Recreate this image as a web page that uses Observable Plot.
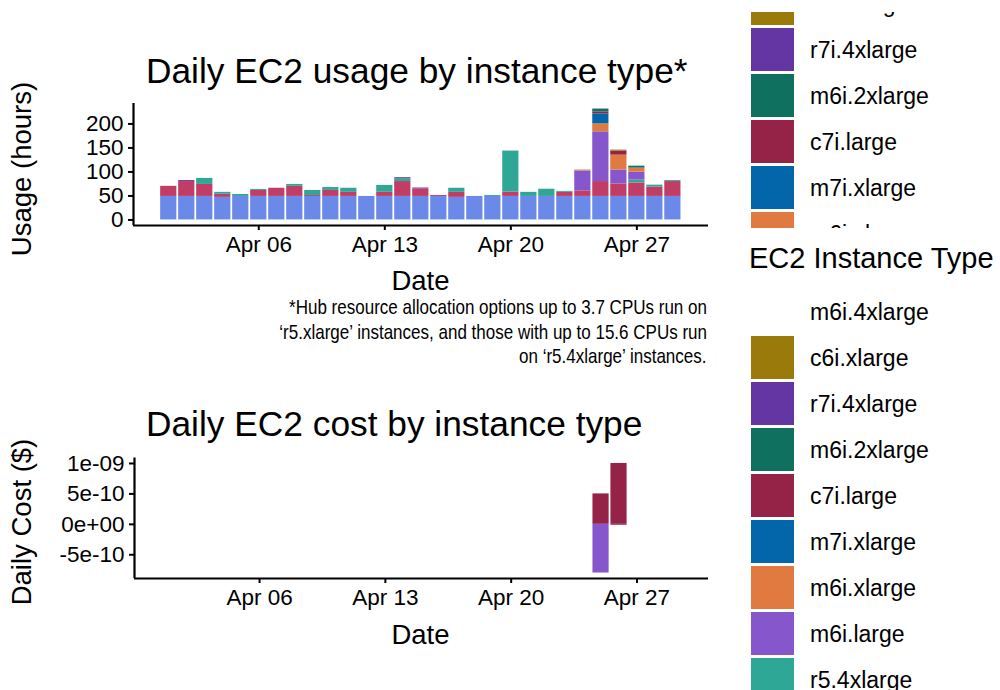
<!DOCTYPE html>
<html><head><meta charset="utf-8">
<script src="https://cdn.jsdelivr.net/npm/d3@7"></script>
<script src="https://cdn.jsdelivr.net/npm/@observablehq/plot@0.6"></script>
<style>
body{margin:0;background:#fff;}
#fig{position:relative;width:1000px;height:690px;overflow:hidden;font-family:"Liberation Sans",Arial,Helvetica,sans-serif;color:#000;background:#fff;}
.t{position:absolute;white-space:nowrap;}
.plot{position:absolute;left:0;}
.clip{position:absolute;overflow:hidden;}
.sw{position:absolute;width:43px;height:43px;}
</style></head><body><div id="fig"></div>
<script>
// ---------------- data ----------------
const dates = ["2024-04-01","2024-04-02","2024-04-03","2024-04-04","2024-04-05","2024-04-06","2024-04-07",
  "2024-04-08","2024-04-09","2024-04-10","2024-04-11","2024-04-12","2024-04-13","2024-04-14","2024-04-15",
  "2024-04-16","2024-04-17","2024-04-18","2024-04-19","2024-04-20","2024-04-21","2024-04-22","2024-04-23",
  "2024-04-24","2024-04-25","2024-04-26","2024-04-27","2024-04-28","2024-04-29"];

// legend order (top to bottom); stacking is the reverse (last = bottom of stack)
const instanceTypes = ["m6i.4xlarge","c6i.xlarge","r7i.4xlarge","m6i.2xlarge","c7i.large","m7i.xlarge",
  "m6i.xlarge","m6i.large","r5.4xlarge","r5.xlarge","r5.large"];
const typeColors = ["#FFFFFF","#9A7A0B","#6336A3","#0F705F","#952247","#0466AA",
  "#E07A41","#8657CC","#2FA797","#C13D66","#6A89E8"];

// daily usage hours by instance type (Apr 01 .. Apr 29)
const hoursR5Large    = [49,49,49,47,49,49,49,49,49,49,49,49,49,49,49,49,47,49,49,49,49,49,49,49,49,49,49,49,49];
const hoursR5Xlarge   = [21,31,25,6.5,0,12.5,17,21,2,12.5,8.5,0,8.5,31,15.5,2,10.5,0,0,9,0,0,8.5,11.5,31,26,28,19.5,31];
const hoursR54xlarge  = [0,0,12.5,4,4,2,0,4,10.5,6,8.5,0,14.5,6,0,0,8.5,0,2,85.5,8.5,15,2,0,0,0,6,4,2];
const hoursM6iLarge   = [0,0,0,0,0,0,0,0,0,0,0,0,0,0,0,0,0,0,0,0,0,0,0,41.5,103.5,29,16.5,0,0];
const hoursM6iXlarge  = [0,0,0,0,0,0,0,0,0,0,0,0,0,0,0,0,0,0,0,0,0,0,0,2,16.5,31,8.5,0,0];
const hoursM7iXlarge  = [0,0,0,0,0,0,0,0,0,0,0,0,0,0,0,0,0,0,0,0,0,0,0,0,21,0,0,0,0];
const hoursC7iLarge   = [0,0,0,0,0,0,0,0,0,0,0,0,0,0,0,0,0,0,0,0,0,0,0,0,4,8.5,0,0,0];
const hoursM6i2xlarge = [0,0,0,0,0,0,0,0,0,0,0,0,0,0,0,0,0,0,0,0,0,0,0,0,6,0,4,0,0];
const hoursR74xlarge  = [0,2,0,0,0,0,0,0,0,0,0,0,0,2,2,0,0,0,0,0,0,0,0,0,0,0,0,0,0];
const hoursC6iXlarge  = [0,0,0,0,0,0,0,0,0,0,0,0,0,0,0,0,0,0,0,0,0,0,0,0,0,2,0,0,0];
const hoursM6i4xlarge = [0,0,0,0,0,0,0,0,0,0,0,0,0,0,0,0,0,0,0,0,0,0,0,0,0,0,0,0,0];

// daily cost ($)
const costDates  = ["2024-04-25","2024-04-25","2024-04-26","2024-04-26"];
const costTypes  = ["c7i.large","m6i.large","c7i.large","c7i.large"];
const costValues = [5e-10, -8e-10, 1e-9, -1.5e-11];

// ticks
const dateTicks  = ["2024-04-06","2024-04-13","2024-04-20","2024-04-27"];
const usageTicks = [0,50,100,150,200];
const costTicks  = [-5e-10,0,5e-10,1e-9];

const captionLines = [
  "*Hub resource allocation options up to 3.7 CPUs run on",
  "\u2018r5.xlarge\u2019 instances, and those with up to 15.6 CPUs run",
  "on \u2018r5.4xlarge\u2019 instances."
];

// ---------------- build tables ----------------
const stackSeries = [ // bottom -> top
  ["r5.large",hoursR5Large],["r5.xlarge",hoursR5Xlarge],["r5.4xlarge",hoursR54xlarge],
  ["m6i.large",hoursM6iLarge],["m6i.xlarge",hoursM6iXlarge],["m7i.xlarge",hoursM7iXlarge],
  ["c7i.large",hoursC7iLarge],["m6i.2xlarge",hoursM6i2xlarge],["r7i.4xlarge",hoursR74xlarge],
  ["c6i.xlarge",hoursC6iXlarge],["m6i.4xlarge",hoursM6i4xlarge]
];
const usageRows = [];
dates.forEach((ds, i) => {
  for (const [type, arr] of stackSeries) {
    if (arr[i] > 0) usageRows.push({date: new Date(ds), type, hours: arr[i]});
  }
});
const costRows = costDates.map((d, i) => ({date: new Date(d), type: costTypes[i], cost: costValues[i]}));

const DAY = 864e5;
const xDomain = [new Date(Date.UTC(2024,2,30,1)), new Date(Date.UTC(2024,3,30,23,30))];
const fontStack = "'Liberation Sans', Arial, Helvetica, sans-serif";

function fmtSci(v) {
  const [m, e] = v.toExponential(0).split("e");
  const ex = +e;
  return m + "e" + (ex < 0 ? "-" : "+") + String(Math.abs(ex)).padStart(2, "0");
}

function makePlot({rows, yField, yDomain, yTicks, yFormat, height, marginTop, marginBottom, marginLeft}) {
  return Plot.plot({
    width: 720, height, marginLeft, marginRight: 12, marginTop, marginBottom,
    style: {fontFamily: fontStack, fontSize: "22.5px", background: "transparent", overflow: "visible", color: "#000"},
    x: {type: "utc", domain: xDomain},
    y: {domain: yDomain},
    color: {domain: instanceTypes, range: typeColors},
    marks: [
      Plot.rectY(rows, {
        x1: d => new Date(+d.date - 0.45 * DAY),
        x2: d => new Date(+d.date + 0.45 * DAY),
        y: yField, fill: "type"
      }),
      Plot.axisX({ticks: dateTicks.map(d => new Date(d)), tickFormat: d3.utcFormat("%b %d"),
        tickSize: 5, tickPadding: 6, label: null, strokeWidth: 2}),
      Plot.axisY({ticks: yTicks, tickFormat: yFormat, tickSize: 5, tickPadding: 5, label: null, strokeWidth: 2}),
      Plot.ruleY([yDomain[0]], {stroke: "#000", strokeWidth: 2.2}),
      Plot.ruleX([xDomain[0]], {stroke: "#000", strokeWidth: 2.2})
    ]
  });
}

const fig = document.getElementById("fig");

// usage panel
const totals = d3.rollup(usageRows, v => d3.sum(v, d => d.hours), d => +d.date);
const uMax = d3.max(totals.values());
const uDom = [-0.05 * uMax, 1.05 * uMax];
const p1 = makePlot({rows: usageRows, yField: "hours", yDomain: uDom, yTicks: usageTicks,
  yFormat: d => String(d), height: 300, marginTop: 103, marginBottom: 75, marginLeft: 133});
p1.classList.add("plot"); p1.style.top = "0px";
fig.appendChild(p1);

// cost panel
const posMax = d3.max(d3.rollup(costRows.filter(d => d.cost > 0), v => d3.sum(v, d => d.cost), d => +d.date).values());
const negMin = d3.min(d3.rollup(costRows.filter(d => d.cost < 0), v => d3.sum(v, d => d.cost), d => +d.date).values());
const cr = posMax - negMin;
const cDom = [negMin - 0.05 * cr, posMax + 0.05 * cr];
const p2 = makePlot({rows: costRows, yField: "cost", yDomain: cDom, yTicks: costTicks,
  yFormat: fmtSci, height: 250, marginTop: 57.5, marginBottom: 72, marginLeft: 134});
p2.classList.add("plot"); p2.style.top = "400px";
fig.appendChild(p2);

// ---------------- text ----------------
function addText(parent, txt, {left, right, cy, size, align = "left", rotate = false, family, sx}) {
  const el = document.createElement("div");
  el.className = "t";
  el.textContent = txt;
  el.style.fontSize = size + "px";
  el.style.lineHeight = size + "px";
  if (family) el.style.fontFamily = family;
  el.style.top = cy + "px";
  if (align === "center") {
    el.style.left = left + "px";
    el.style.transform = "translate(-50%,-50%)" + (rotate ? " rotate(-90deg)" : "");
  } else if (align === "right") {
    el.style.right = right + "px";
    el.style.transformOrigin = "100% 50%";
    el.style.transform = "translateY(-50%)" + (sx ? ` scaleX(${sx})` : "");
  } else {
    el.style.left = left + "px";
    el.style.transform = "translateY(-50%)";
  }
  parent.appendChild(el);
  return el;
}

addText(fig, "Daily EC2 usage by instance type*", {left: 146, cy: 71, size: 35.3});
addText(fig, "Usage (hours)", {left: 22, cy: 169, size: 27.5, align: "center", rotate: true});
addText(fig, "Date", {left: 420.5, cy: 281, size: 27.5, align: "center"});
captionLines.forEach((line, i) => {
  addText(fig, line, {right: 293, cy: 306 + 24.5 * i, size: 21, align: "right", sx: 0.81});
});
addText(fig, "Daily EC2 cost by instance type", {left: 146, cy: 424, size: 35.3});
addText(fig, "Daily Cost ($)", {left: 22, cy: 522, size: 27.5, align: "center", rotate: true});
addText(fig, "Date", {left: 420.5, cy: 635, size: 27.5, align: "center"});

// ---------------- legends ----------------
function addLegend(clipTop, clipHeight, firstSwatchTop) {
  const box = document.createElement("div");
  box.className = "clip";
  box.style.left = "740px"; box.style.top = clipTop + "px";
  box.style.width = "260px"; box.style.height = clipHeight + "px";
  fig.appendChild(box);
  const off = -clipTop;
  const visible = (top, h) => top + h > 0 && top < clipHeight;
  const titleCy = firstSwatchTop - 32 + off;
  if (visible(titleCy - 15, 30)) addText(box, "EC2 Instance Type", {left: 9, cy: titleCy, size: 29});
  instanceTypes.forEach((t, i) => {
    const top = firstSwatchTop + 46 * i + off;
    if (!visible(top, 43)) return;
    const sw = document.createElement("div");
    sw.className = "sw";
    sw.style.left = "11px"; sw.style.top = top + "px";
    sw.style.background = typeColors[i];
    box.appendChild(sw);
    addText(box, t, {left: 70, cy: top + 21.5, size: 23});
  });
}
addLegend(12, 216, -64);
addLegend(232, 458, 290);
</script></body></html>
